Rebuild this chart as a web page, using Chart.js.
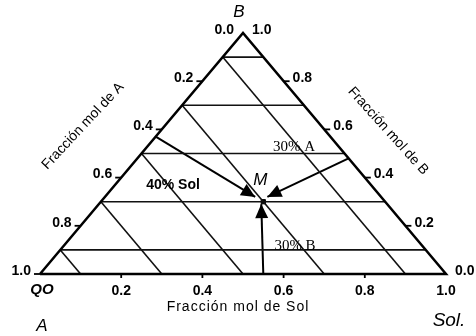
<!DOCTYPE html>
<html>
<head>
<meta charset="utf-8">
<script src="https://cdn.jsdelivr.net/npm/chart.js@4"></script>
<style>
body{margin:0;background:#fff;}
</style>
</head>
<body>
<canvas id="ternary" width="476" height="336"></canvas>
<script>
// mole fractions of the grid lines
let gridB = [0.1, 0.3, 0.5, 0.7, 0.9];   // constant B (horizontal)
let gridA = [0.1, 0.3, 0.5, 0.7, 0.9];   // constant A (parallel to B-Sol side)
let tickVals = [0.2, 0.4, 0.6, 0.8, 1.0];
let leftLabels = ["0.0", "0.2", "0.4", "0.6", "0.8", "1.0"];
let rightLabels = ["0.0", "0.2", "0.4", "0.6", "0.8", "1.0"];
let bottomLabels = ["0.2", "0.4", "0.6", "0.8", "1.0"];
// mixture M as [Sol, B]
let mixM = [0.4, 0.3];
// arrows as [Sol, B] start and end
let arrowFrom = [[0, 0.57], [0.52, 0.48], [0.55, 0]];
let arrowTo = [[0.37, 0.32], [0.40, 0.32], [0.40, 0.29]];

// ternary -> cartesian (x along A-Sol base, y = B)
function pt(sol, b){
  return {x: sol + b / 2, y: b};
}

let datasets = [];
function line(a, b, width){
  datasets.push({data: [a, b], showLine: true, borderColor: "#111", borderWidth: width, pointRadius: 0, clip: false});
}

// outline
datasets.push({data: [pt(0,0), pt(1,0), pt(0,1), pt(0,0)], showLine: true, borderColor: "#000", borderWidth: 2.5, pointRadius: 0, clip: false});
gridB.forEach(b => line(pt(0, b), pt(1 - b, b), 1.6));
gridA.forEach(a => line(pt(0, 1 - a), pt(1 - a, 0), 1.6));
arrowFrom.forEach((s, i) => {
  datasets.push({data: [pt(s[0], s[1]), pt(arrowTo[i][0], arrowTo[i][1])], showLine: true, borderColor: "#000", borderWidth: 2, pointRadius: 0, clip: false, arrow: true});
});

// tick marks
function ticks(points, rot, len){
  datasets.push({data: points, showLine: false, pointStyle: "dash", pointRotation: rot, pointRadius: len, pointBorderWidth: 1.8, pointBorderColor: "#000", clip: false});
}
ticks(tickVals.map(a => pt(0, 1 - a)), 180, 6);
ticks(tickVals.slice(0, 4).map(b => pt(1 - b, b)), 0, 6);
ticks(tickVals.slice(0, 4).map(s => pt(s, 0)), 90, 4);

// point M
datasets.push({data: [pt(mixM[0], mixM[1])], pointStyle: "rect", pointRadius: 3, pointBackgroundColor: "#000", pointBorderColor: "#000", clip: false});

const labels = {
  id: "labels",
  afterDatasetsDraw(chart){
    let ctx = chart.ctx;
    let xs = chart.scales.x, ys = chart.scales.y;
    let px = (sol, b) => [xs.getPixelForValue(sol + b / 2), ys.getPixelForValue(b)];
    ctx.save();
    ctx.fillStyle = "#000";

    // arrow heads
    chart.data.datasets.forEach((ds, i) => {
      if(!ds.arrow) return;
      let pts = chart.getDatasetMeta(i).data;
      let p0 = pts[0], p1 = pts[pts.length - 1];
      let ang = Math.atan2(p1.y - p0.y, p1.x - p0.x);
      ctx.save();
      ctx.translate(p1.x, p1.y);
      ctx.rotate(ang);
      ctx.beginPath();
      ctx.moveTo(0, 0);
      ctx.lineTo(-14, -6.5);
      ctx.lineTo(-14, 6.5);
      ctx.closePath();
      ctx.fill();
      ctx.restore();
    });

    // tick labels
    ctx.font = "bold 14px 'Liberation Sans', Arial, sans-serif";
    ctx.textBaseline = "middle";
    ctx.textAlign = "right";
    leftLabels.forEach((t, i) => {
      let p = px(0, 1 - i * 0.2);
      ctx.fillText(t, p[0] - 9, p[1] - 3);
    });
    ctx.textAlign = "left";
    rightLabels.forEach((t, i) => {
      let p = px(1 - i * 0.2, i * 0.2);
      ctx.fillText(t, p[0] + 9, p[1] - 3);
    });
    ctx.textAlign = "center";
    bottomLabels.forEach((t, i) => {
      let p = px((i + 1) * 0.2, 0);
      ctx.fillText(t, p[0], p[1] + 17);
    });

    // corner labels
    let o = px(0, 0), top = px(0, 1), r = px(1, 0);
    ctx.font = "italic bold 15px 'Liberation Sans', Arial, sans-serif";
    ctx.fillText("QO", o[0] + 2, o[1] + 16);
    ctx.font = "italic 17px 'Liberation Sans', Arial, sans-serif";
    ctx.fillText("A", o[0] + 2, o[1] + 52);
    ctx.fillText("B", top[0] - 4, top[1] - 21);
    ctx.font = "italic 19px 'Liberation Sans', Arial, sans-serif";
    ctx.fillText("Sol.", r[0] + 3, r[1] + 47);

    // axis titles
    ctx.font = "14px 'Liberation Sans', Arial, sans-serif";
    ctx.letterSpacing = "1px";
    ctx.fillText("Fracción mol de Sol", (o[0] + r[0]) / 2 - 5, o[1] + 33);
    ctx.letterSpacing = "0px";
    ctx.save();
    ctx.translate(83, 126);
    ctx.rotate(-47 * Math.PI / 180);
    ctx.fillText("Fracción mol de A", 0, 0);
    ctx.restore();
    ctx.save();
    ctx.translate(388, 131);
    ctx.rotate(48 * Math.PI / 180);
    ctx.fillText("Fracción mol de B", 0, 0);
    ctx.restore();

    // annotations
    let m = px(mixM[0], mixM[1]);
    ctx.font = "italic 17px 'Liberation Sans', Arial, sans-serif";
    ctx.fillText("M", m[0] - 3, m[1] - 21);
    ctx.font = "bold 14px 'Liberation Sans', Arial, sans-serif";
    ctx.fillText("40% Sol", 173, 185);
    ctx.font = "15px 'Liberation Serif', 'Times New Roman', serif";
    ctx.fillText("30% A", 294, 147);
    ctx.fillText("30% B", 295, 246);
    ctx.restore();
  }
};

new Chart(document.getElementById("ternary"), {
  type: "scatter",
  data: {datasets: datasets},
  options: {
    responsive: false,
    animation: false,
    layout: {padding: {left: 40, right: 30, top: 33, bottom: 62}},
    scales: {
      x: {type: "linear", min: 0, max: 1, display: false},
      y: {type: "linear", min: 0, max: 1, display: false}
    },
    plugins: {legend: {display: false}, tooltip: {enabled: false}}
  },
  plugins: [labels]
});
</script>
</body>
</html>
